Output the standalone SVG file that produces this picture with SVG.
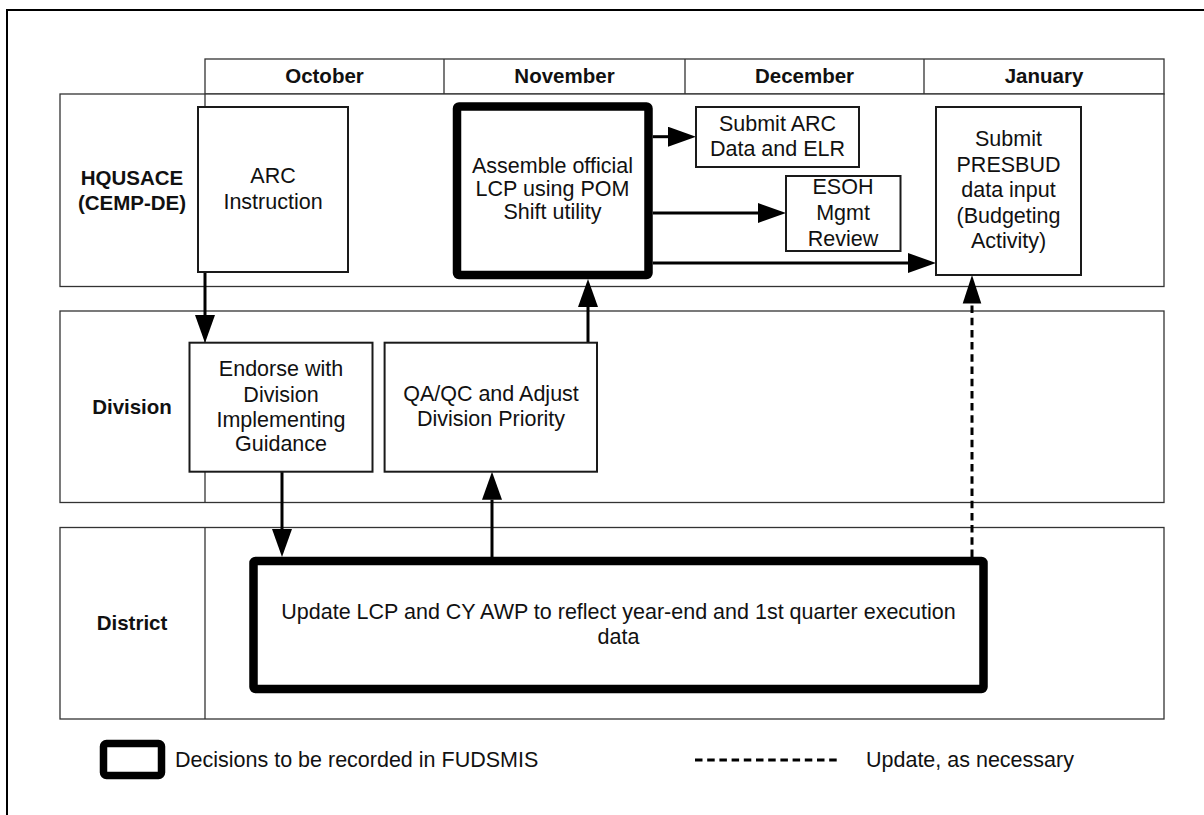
<svg xmlns="http://www.w3.org/2000/svg" width="1204" height="815" viewBox="0 0 1204 815">
  <style>
    text { font-family: "Liberation Sans", Arial, sans-serif; fill: #111; }
    .lbl { font-size: 21.5px; text-anchor: middle; }
    .hdr { font-size: 20.5px; font-weight: bold; text-anchor: middle; }
    .leg { font-size: 21.5px; }
    .lane { fill: #fff; stroke: #333; stroke-width: 1.3; }
    .grid { stroke: #333; stroke-width: 1.3; fill: none; }
    .box { fill: #fff; stroke: #1a1a1a; stroke-width: 2; }
    .dec { fill: #fff; stroke: #000; stroke-width: 8.5; }
    .flow { stroke: #000; stroke-width: 3; fill: none; marker-end: url(#head); }
    .dash { stroke: #000; stroke-width: 3; fill: none; stroke-dasharray: 7.5 4.7; }
  </style>
  <defs>
    <marker id="head" markerUnits="userSpaceOnUse" markerWidth="29" markerHeight="20" refX="0" refY="10" orient="auto" viewBox="0 0 29 20">
      <polygon points="0,0 28,10 0,20" fill="#000"/>
    </marker>
  </defs>

  <rect width="1204" height="815" fill="#fff"/>

  <!-- page frame (runs off the right and bottom edges) -->
  <path d="M7,815 V10 H1204" fill="none" stroke="#000" stroke-width="2"/>

  <!-- month header -->
  <g id="months">
    <rect x="205" y="59" width="959" height="35" class="lane"/>
    <path class="grid" d="M444,59 V94 M685,59 V94 M924,59 V94"/>
    <text class="hdr" x="324.5" y="83">October</text>
    <text class="hdr" x="564.5" y="83">November</text>
    <text class="hdr" x="804.5" y="83">December</text>
    <text class="hdr" x="1044" y="83">January</text>
  </g>

  <!-- swimlanes -->
  <g id="lane-hq">
    <rect x="60" y="94" width="1104" height="192.5" class="lane"/>
    <path class="grid" d="M205,94 V286.5"/>
    <text class="hdr" x="132" y="185">HQUSACE</text>
    <text class="hdr" x="132" y="210">(CEMP-DE)</text>
  </g>
  <g id="lane-division">
    <rect x="60" y="311" width="1104" height="191.5" class="lane"/>
    <path class="grid" d="M205,311 V502.5"/>
    <text class="hdr" x="132" y="414">Division</text>
  </g>
  <g id="lane-district">
    <rect x="60" y="527.5" width="1104" height="191.5" class="lane"/>
    <path class="grid" d="M205,527.5 V719"/>
    <text class="hdr" x="132" y="630">District</text>
  </g>

  <!-- connectors -->
  <g id="connectors">
    <path class="flow" d="M205,272 V315"/>
    <path class="flow" d="M282,471.7 V529"/>
    <path class="flow" d="M492,557 V499.7"/>
    <path class="flow" d="M588,342.7 V307"/>
    <path class="flow" d="M652.7,136.7 H668"/>
    <path class="flow" d="M652.7,213 H758"/>
    <path class="flow" d="M652.7,263 H908"/>
    <path class="dash" d="M972,557 V303"/>
    <polygon points="972,275 962.7,303.5 981.3,303.5" fill="#000"/>
  </g>

  <!-- HQUSACE activities -->
  <g id="arc-instruction">
    <rect x="198" y="107" width="150" height="165" class="box"/>
    <text class="lbl" x="273" y="183">ARC</text>
    <text class="lbl" x="273" y="209">Instruction</text>
  </g>
  <g id="assemble-lcp">
    <rect x="457" y="106.5" width="191.5" height="168.5" rx="2" class="dec"/>
    <text class="lbl" x="552.5" y="172.5">Assemble official</text>
    <text class="lbl" x="552.5" y="196">LCP using POM</text>
    <text class="lbl" x="552.5" y="219">Shift utility</text>
  </g>
  <g id="submit-arc">
    <rect x="696" y="107" width="163" height="60" class="box"/>
    <text class="lbl" x="777.5" y="131">Submit ARC</text>
    <text class="lbl" x="777.5" y="156">Data and ELR</text>
  </g>
  <g id="esoh-review">
    <rect x="786" y="176" width="114.5" height="75" class="box"/>
    <text class="lbl" x="843" y="193.5">ESOH</text>
    <text class="lbl" x="843" y="219.5">Mgmt</text>
    <text class="lbl" x="843" y="245.5">Review</text>
  </g>
  <g id="submit-presbud">
    <rect x="936" y="107" width="145" height="168" class="box"/>
    <text class="lbl" x="1008.5" y="146">Submit</text>
    <text class="lbl" x="1008.5" y="171.5">PRESBUD</text>
    <text class="lbl" x="1008.5" y="197">data input</text>
    <text class="lbl" x="1008.5" y="222.5">(Budgeting</text>
    <text class="lbl" x="1008.5" y="248">Activity)</text>
  </g>

  <!-- Division activities -->
  <g id="endorse">
    <rect x="189.5" y="342.7" width="183" height="129" class="box"/>
    <text class="lbl" x="281" y="376">Endorse with</text>
    <text class="lbl" x="281" y="401.5">Division</text>
    <text class="lbl" x="281" y="426.5">Implementing</text>
    <text class="lbl" x="281" y="451">Guidance</text>
  </g>
  <g id="qa-qc">
    <rect x="384.6" y="342.7" width="212.4" height="129" class="box"/>
    <text class="lbl" x="491" y="401">QA/QC and Adjust</text>
    <text class="lbl" x="491" y="425.5">Division Priority</text>
  </g>

  <!-- District activity -->
  <g id="update-lcp">
    <rect x="253.5" y="561" width="730" height="128" rx="2" class="dec"/>
    <text class="lbl" x="618.5" y="618.5">Update LCP and CY AWP to reflect year-end and 1st quarter execution</text>
    <text class="lbl" x="618.5" y="644">data</text>
  </g>

  <!-- legend -->
  <g id="legend">
    <rect x="103.5" y="743.5" width="58" height="32" rx="3" fill="#fff" stroke="#000" stroke-width="7.5"/>
    <text class="leg" x="175" y="767">Decisions to be recorded in FUDSMIS</text>
    <path d="M695,760 H837" stroke="#000" stroke-width="3" stroke-dasharray="7.5 4.7" fill="none"/>
    <text class="leg" x="866" y="767">Update, as necessary</text>
  </g>
</svg>
